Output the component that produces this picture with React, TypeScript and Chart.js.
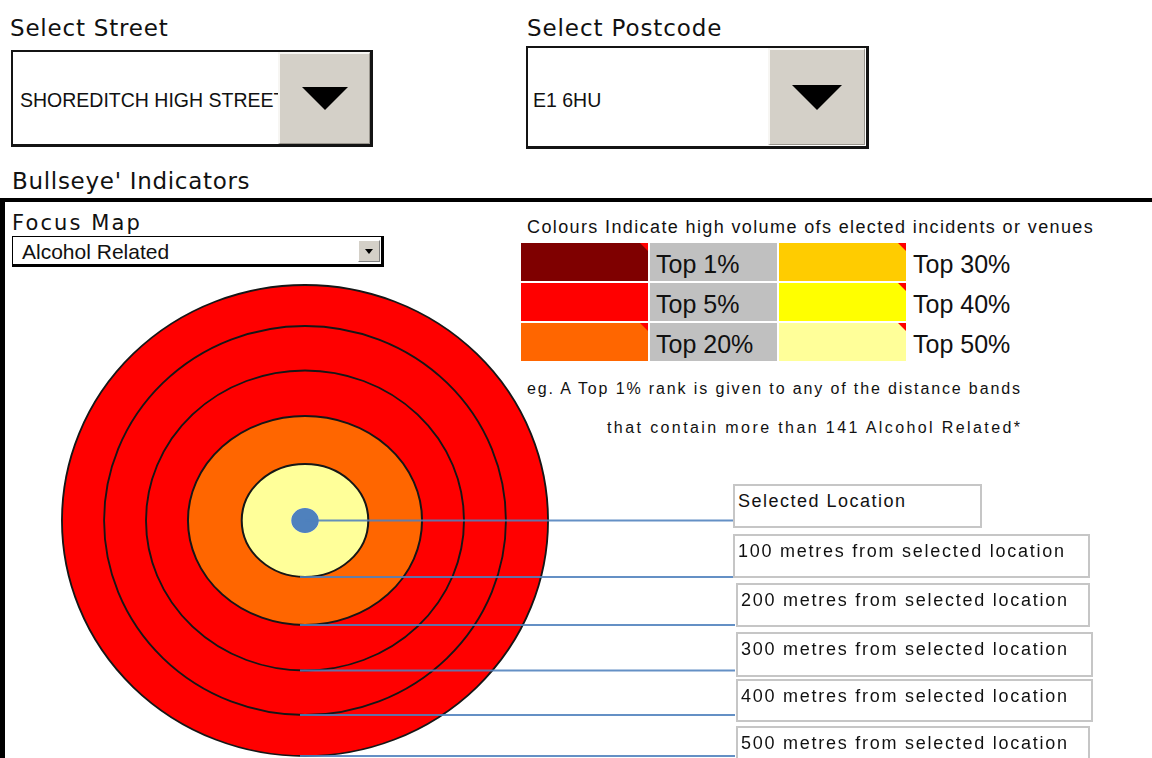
import React, { useEffect, useRef } from "react";
import { Chart, registerables } from "chart.js";

Chart.register(...registerables);

// ---------------- data ----------------
const selectedStreet = "SHOREDITCH HIGH STREET";
const selectedPostcode = "E1 6HU";
const focusMeasure = "Alcohol Related";
const top1Threshold = 141;

const rankLabels = ["Top 1%", "Top 5%", "Top 20%", "Top 30%", "Top 40%", "Top 50%"];
const rankColours = ["#7F0000", "#FF0000", "#FF6600", "#FFCC00", "#FFFF00", "#FFFF99"];
const ranksWithNote = [0, 2, 3, 4, 5];

// distance bands, outermost ring first
const bandNames = ["500 metres", "400 metres", "300 metres", "200 metres", "100 metres", "Selected Location"];
const bandRanks = ["Top 5%", "Top 5%", "Top 5%", "Top 20%", "Top 50%", ""];
const bandValues = [1, 1, 1, 1, 1, 1];

const boxLabels = [
  "Selected Location",
  "100 metres from selected location",
  "200 metres from selected location",
  "300 metres from selected location",
  "400 metres from selected location",
  "500 metres from selected location",
];

// ---------------- style ----------------
const ringThickness = [41, 44.5, 45.5, 48, 44, 12.5]; // outer -> inner (px)
const ringStretchX = [1.032, 1.033, 1.06, 1.12, 1.12, 1.1];
const locationColour = "#4F81BD";
const boxLayout = [
  { left: 733, top: 484, width: 249, height: 44 },
  { left: 733, top: 534, width: 357, height: 44 },
  { left: 736, top: 583, width: 354, height: 44 },
  { left: 736, top: 632, width: 357, height: 45 },
  { left: 736, top: 679, width: 357, height: 43 },
  { left: 736, top: 726, width: 354, height: 46 },
];

const DJ = "'DejaVu Sans', sans-serif";
const LS = "'Liberation Sans', Arial, sans-serif";

const bullseyePlugin = {
  id: "bullseye",
  beforeDatasetDraw(chart: any, args: any) {
    const arc = args.meta.data[0];
    if (!arc) return;
    const s = ringStretchX[args.index];
    const ctx = chart.ctx;
    ctx.save();
    ctx.translate(arc.x, arc.y);
    ctx.scale(s, 1);
    ctx.translate(-arc.x, -arc.y);
  },
  afterDatasetDraw(chart: any, args: any) {
    const arc = args.meta.data[0];
    if (!arc) return;
    const ctx = chart.ctx;
    if (args.index < bandNames.length - 1) {
      ctx.beginPath();
      ctx.arc(arc.x, arc.y, arc.outerRadius, 0, Math.PI * 2);
      ctx.lineWidth = 1.8;
      ctx.strokeStyle = "#161616";
      ctx.stroke();
    }
    ctx.restore();
  },
  afterDraw(chart: any) {
    const ctx = chart.ctx;
    ctx.save();
    ctx.strokeStyle = "rgba(79,129,189,0.88)";
    ctx.lineWidth = 2;
    for (let i = 0; i < bandNames.length; i++) {
      const arc = chart.getDatasetMeta(i).data[0];
      if (!arc) continue;
      const isLocation = i === bandNames.length - 1;
      const y = isLocation ? arc.y : arc.y + arc.outerRadius;
      const x0 = isLocation ? arc.x : arc.x - 5;
      ctx.beginPath();
      ctx.moveTo(x0, y);
      ctx.lineTo(chart.width, y);
      ctx.stroke();
    }
    ctx.restore();
  },
};

function BullseyeChart() {
  const ref = useRef<HTMLCanvasElement | null>(null);
  useEffect(() => {
    if (!ref.current) return;
    const last = bandNames.length - 1;
    const datasets = bandNames.map((name, i) => ({
      label: name,
      data: [bandValues[i]],
      backgroundColor: i === last ? locationColour : rankColours[rankLabels.indexOf(bandRanks[i])],
      weight: ringThickness[i],
      order: last - i,
      borderWidth: 0,
      hoverBorderWidth: 0,
      hoverOffset: 0,
      clip: false,
    }));
    const chart = new Chart(ref.current, {
      type: "doughnut",
      data: { labels: ["band"], datasets },
      options: {
        responsive: false,
        animation: false,
        events: [],
        cutout: 0,
        radius: ringThickness.reduce((a, b) => a + b, 0),
        layout: { padding: { left: 0, top: 0, right: 125, bottom: 0 } },
        plugins: { legend: { display: false }, tooltip: { enabled: false } },
      } as any,
      plugins: [bullseyePlugin as any],
    });
    return () => chart.destroy();
  }, []);
  return (
    <canvas
      ref={ref}
      width={735}
      height={501}
      style={{ position: "absolute", left: 0, top: 270 }}
    />
  );
}

function Triangle({ cx, top, half, h }: { cx: number; top: number; half: number; h: number }) {
  return (
    <div
      style={{
        position: "absolute",
        left: cx - half,
        top,
        width: 0,
        height: 0,
        borderLeft: `${half}px solid transparent`,
        borderRight: `${half}px solid transparent`,
        borderTop: `${h}px solid #000`,
      }}
    />
  );
}

function BigDropdown(p: {
  left: number; top: number; width: number; height: number;
  btnLeft: number; btnTop: number; btnW: number; btnH: number;
  triCx: number; triTop: number; triHalf: number; triH: number;
  text: string; textLeft: number;
}) {
  return (
    <>
      <div
        style={{
          position: "absolute", left: p.left, top: p.top, width: p.width, height: p.height,
          boxSizing: "border-box", border: "2px solid #141414", borderRightWidth: 3, borderBottomWidth: 3,
          background: "#fff",
        }}
      />
      <div
        style={{
          position: "absolute", left: p.textLeft, top: 90, fontFamily: LS, fontSize: 19.5,
          lineHeight: "20px", whiteSpace: "nowrap", color: "#111",
        }}
      >
        {p.text}
      </div>
      <div
        style={{
          position: "absolute", left: p.btnLeft, top: p.btnTop, width: p.btnW, height: p.btnH,
          boxSizing: "border-box", background: "#D4D0C8",
          borderTop: "2px solid #f7f6f3", borderLeft: "2px solid #f7f6f3",
          borderRight: "1px solid #9a968e", borderBottom: "1px solid #9a968e",
        }}
      />
      <Triangle cx={p.triCx} top={p.triTop} half={p.triHalf} h={p.triH} />
    </>
  );
}

export default function App() {
  const rowTop = (r: number) => 243 + r * 40;
  return (
    <div
      style={{
        position: "fixed", left: 0, top: 0, width: 1152, height: 758, overflow: "hidden",
        background: "#fff", color: "#111",
      }}
    >
      <div style={{ position: "absolute", left: 10, top: 17.3, fontFamily: DJ, fontSize: 23, lineHeight: 1, letterSpacing: 0.8, whiteSpace: "nowrap" }}>
        Select Street
      </div>
      <div style={{ position: "absolute", left: 527, top: 17.3, fontFamily: DJ, fontSize: 23, lineHeight: 1, letterSpacing: 0.9, whiteSpace: "nowrap" }}>
        Select Postcode
      </div>

      <BigDropdown
        left={11} top={50} width={362} height={97}
        btnLeft={278} btnTop={52} btnW={92} btnH={92}
        triCx={325} triTop={87} triHalf={23} triH={23}
        text={selectedStreet} textLeft={20}
      />
      <BigDropdown
        left={526} top={46} width={343} height={103}
        btnLeft={768} btnTop={48} btnW={97} btnH={97}
        triCx={817} triTop={85} triHalf={25} triH={25}
        text={selectedPostcode} textLeft={533}
      />

      <div style={{ position: "absolute", left: 12, top: 170.3, fontFamily: DJ, fontSize: 23, lineHeight: 1, letterSpacing: 0.7, whiteSpace: "nowrap" }}>
        Bullseye' Indicators
      </div>

      {/* frame */}
      <div
        style={{
          position: "absolute", left: 0, top: 198, width: 1300, height: 700, boxSizing: "border-box",
          borderTop: "4px solid #000", borderLeft: "5px solid #000",
        }}
      />

      <div style={{ position: "absolute", left: 12, top: 212.5, fontFamily: DJ, fontSize: 21, lineHeight: 1, letterSpacing: 2.1, whiteSpace: "nowrap" }}>
        Focus Map
      </div>
      <div
        style={{
          position: "absolute", left: 12, top: 236, width: 372, height: 31, boxSizing: "border-box",
          border: "1px solid #000", borderRightWidth: 3, borderBottomWidth: 3, background: "#fff",
        }}
      />
      <div style={{ position: "absolute", left: 22, top: 241.3, fontFamily: LS, fontSize: 21, lineHeight: 1, whiteSpace: "nowrap" }}>
        {focusMeasure}
      </div>
      <div
        style={{
          position: "absolute", left: 358, top: 240, width: 22, height: 22, boxSizing: "border-box",
          background: "#D4D0C8", borderTop: "1px solid #fff", borderLeft: "1px solid #fff",
          borderRight: "1px solid #808080", borderBottom: "1px solid #808080",
        }}
      />
      <Triangle cx={369} top={249} half={4.5} h={5} />

      {/* legend */}
      <div style={{ position: "absolute", left: 527, top: 217.6, fontFamily: LS, fontSize: 18, lineHeight: 1, letterSpacing: 1.38, whiteSpace: "nowrap" }}>
        Colours Indicate high volume ofs elected incidents or venues
      </div>
      {rankLabels.map((lab, i) => {
        const r = i % 3;
        const pair = Math.floor(i / 3);
        const swLeft = pair === 0 ? 521 : 779;
        return (
          <React.Fragment key={lab}>
            <div style={{ position: "absolute", left: swLeft, top: rowTop(r), width: 127, height: 38, background: rankColours[i], overflow: "hidden" }}>
              {ranksWithNote.includes(i) && (
                <div
                  style={{
                    position: "absolute", right: 0, top: 0, width: 0, height: 0,
                    borderTop: "8px solid #FF0000", borderLeft: "8px solid transparent",
                  }}
                />
              )}
            </div>
            {pair === 0 && (
              <div style={{ position: "absolute", left: 650, top: rowTop(r), width: 127, height: 38, background: "#C0C0C0" }} />
            )}
            <div
              style={{
                position: "absolute", left: pair === 0 ? 656 : 913, top: rowTop(r) + 8.7,
                fontFamily: LS, fontSize: 25, lineHeight: 1, whiteSpace: "nowrap",
              }}
            >
              {lab}
            </div>
          </React.Fragment>
        );
      })}

      <div style={{ position: "absolute", left: 527, top: 381, fontFamily: LS, fontSize: 16, lineHeight: 1, letterSpacing: 1.87, whiteSpace: "nowrap" }}>
        eg. A Top 1% rank is given to any of the distance bands
      </div>
      <div style={{ position: "absolute", left: 607, top: 420, fontFamily: LS, fontSize: 16, lineHeight: 1, letterSpacing: 2.4, whiteSpace: "nowrap" }}>
        {`that contain more than ${top1Threshold} ${focusMeasure}*`}
      </div>

      <BullseyeChart />

      {boxLabels.map((lab, i) => {
        const b = boxLayout[i];
        return (
          <div
            key={lab}
            style={{
              position: "absolute", left: b.left, top: b.top, width: b.width, height: b.height,
              boxSizing: "border-box", border: "2px solid #c6c6c6", background: "#fff",
            }}
          >
            <div
              style={{
                position: "absolute", left: 3, top: 6, fontFamily: LS, fontSize: 18, lineHeight: 1,
                letterSpacing: i === 0 ? 1.5 : 1.75, whiteSpace: "nowrap",
              }}
            >
              {lab}
            </div>
          </div>
        );
      })}
    </div>
  );
}
